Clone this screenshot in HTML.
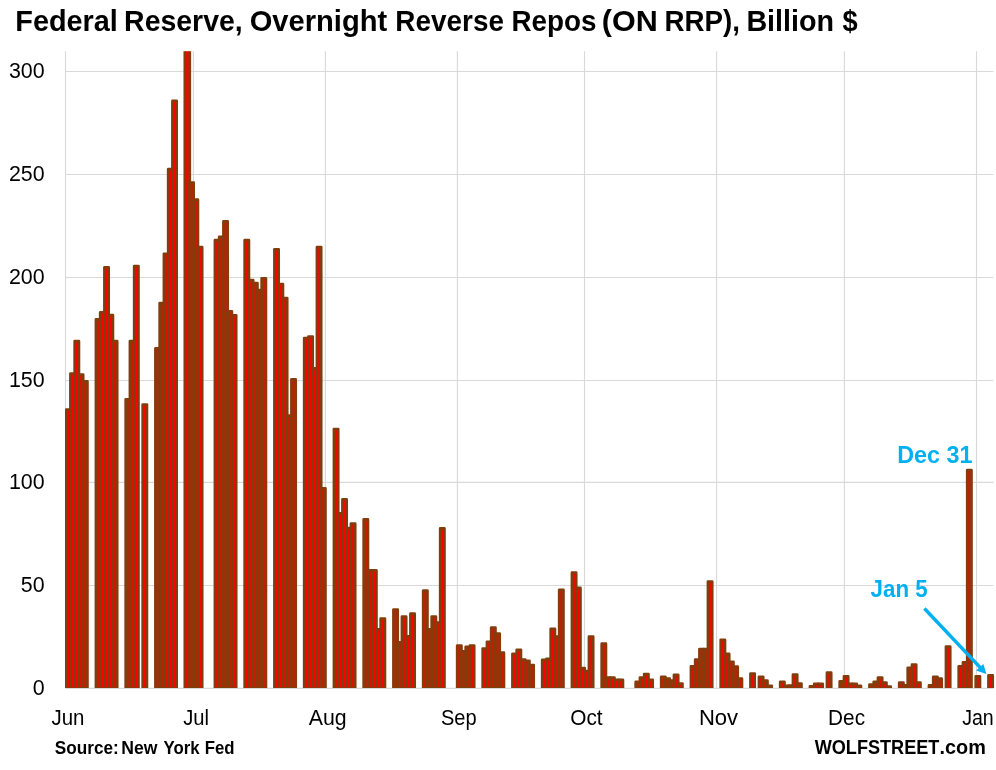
<!DOCTYPE html>
<html lang="en"><head><meta charset="utf-8"><title>Federal Reserve, Overnight Reverse Repos (ON RRP), Billion $</title>
<style>html,body{margin:0;padding:0;background:#fff}body{width:996px;height:770px;overflow:hidden}svg{display:block}text{font-family:"Liberation Sans",sans-serif}</style></head><body>
<svg width="996" height="770" viewBox="0 0 996 770">
<rect width="996" height="770" fill="#fff"/>
<g stroke="#d9d9d9" stroke-width="1.1" fill="none">
<line x1="65.5" x2="993.5" y1="688.40" y2="688.40"/>
<line x1="65.5" x2="993.5" y1="585.45" y2="585.45"/>
<line x1="65.5" x2="993.5" y1="482.40" y2="482.40"/>
<line x1="65.5" x2="993.5" y1="380.50" y2="380.50"/>
<line x1="65.5" x2="993.5" y1="277.50" y2="277.50"/>
<line x1="65.5" x2="993.5" y1="174.45" y2="174.45"/>
<line x1="65.5" x2="993.5" y1="71.45" y2="71.45"/>
<line x1="65.50" x2="65.50" y1="51.3" y2="688.3"/>
<line x1="193.40" x2="193.40" y1="51.3" y2="688.3"/>
<line x1="325.40" x2="325.40" y1="51.3" y2="688.3"/>
<line x1="457.40" x2="457.40" y1="51.3" y2="688.3"/>
<line x1="584.50" x2="584.50" y1="51.3" y2="688.3"/>
<line x1="716.60" x2="716.60" y1="51.3" y2="688.3"/>
<line x1="844.40" x2="844.40" y1="51.3" y2="688.3"/>
<line x1="976.50" x2="976.50" y1="51.3" y2="688.3"/>
</g>
<defs><clipPath id="pc"><rect x="65.0" y="51.3" width="935" height="636.6"/></clipPath></defs>
<g clip-path="url(#pc)" fill="#ff0000" stroke="#843c0c" stroke-width="2.7" stroke-linejoin="round">
<rect x="66.17" y="409.53" width="4.25" height="279.12"/>
<rect x="70.43" y="373.52" width="4.25" height="315.13"/>
<rect x="74.68" y="341.22" width="4.25" height="347.43"/>
<rect x="78.93" y="374.55" width="4.25" height="314.10"/>
<rect x="83.18" y="381.34" width="4.25" height="307.31"/>
<rect x="95.93" y="319.41" width="4.25" height="369.24"/>
<rect x="100.18" y="312.41" width="4.25" height="376.24"/>
<rect x="104.43" y="267.35" width="4.25" height="421.30"/>
<rect x="108.68" y="315.09" width="4.25" height="373.56"/>
<rect x="112.93" y="341.22" width="4.25" height="347.43"/>
<rect x="125.68" y="399.24" width="4.25" height="289.41"/>
<rect x="129.93" y="341.22" width="4.25" height="347.43"/>
<rect x="134.18" y="266.12" width="4.25" height="422.53"/>
<rect x="142.68" y="404.59" width="4.25" height="284.06"/>
<rect x="155.43" y="348.42" width="4.25" height="340.23"/>
<rect x="159.68" y="303.15" width="4.25" height="385.50"/>
<rect x="163.93" y="253.77" width="4.25" height="434.88"/>
<rect x="168.18" y="169.21" width="4.25" height="519.44"/>
<rect x="172.43" y="100.90" width="4.25" height="587.75"/>
<rect x="184.83" y="8.73" width="4.95" height="679.92"/>
<rect x="189.43" y="182.59" width="4.25" height="506.06"/>
<rect x="193.68" y="199.66" width="4.25" height="488.99"/>
<rect x="197.93" y="247.19" width="4.25" height="441.46"/>
<rect x="214.93" y="240.20" width="4.25" height="448.45"/>
<rect x="219.18" y="236.90" width="4.25" height="451.75"/>
<rect x="223.43" y="221.27" width="4.25" height="467.38"/>
<rect x="227.68" y="311.38" width="4.25" height="377.27"/>
<rect x="231.93" y="315.29" width="4.25" height="373.36"/>
<rect x="244.68" y="240.20" width="4.25" height="448.45"/>
<rect x="248.93" y="280.11" width="4.25" height="408.54"/>
<rect x="253.18" y="282.99" width="4.25" height="405.66"/>
<rect x="257.43" y="290.19" width="4.25" height="398.46"/>
<rect x="261.68" y="278.26" width="4.25" height="410.39"/>
<rect x="274.43" y="249.25" width="4.25" height="439.40"/>
<rect x="278.69" y="284.02" width="4.25" height="404.63"/>
<rect x="282.94" y="298.01" width="4.25" height="390.64"/>
<rect x="287.19" y="415.70" width="4.25" height="272.95"/>
<rect x="291.44" y="379.28" width="4.25" height="309.37"/>
<rect x="304.19" y="338.13" width="4.25" height="350.52"/>
<rect x="308.44" y="336.49" width="4.25" height="352.16"/>
<rect x="312.69" y="368.38" width="4.25" height="320.27"/>
<rect x="316.94" y="247.19" width="4.25" height="441.46"/>
<rect x="321.19" y="488.33" width="4.25" height="200.32"/>
<rect x="333.94" y="429.07" width="4.25" height="259.58"/>
<rect x="338.19" y="513.43" width="4.25" height="175.22"/>
<rect x="342.44" y="499.44" width="4.25" height="189.21"/>
<rect x="346.69" y="528.04" width="4.25" height="160.61"/>
<rect x="350.94" y="523.51" width="4.25" height="165.14"/>
<rect x="363.69" y="519.40" width="4.25" height="169.25"/>
<rect x="367.94" y="570.42" width="4.25" height="118.23"/>
<rect x="372.19" y="570.42" width="4.25" height="118.23"/>
<rect x="376.44" y="629.27" width="4.25" height="59.38"/>
<rect x="380.69" y="618.57" width="4.25" height="70.08"/>
<rect x="393.44" y="609.52" width="4.25" height="79.13"/>
<rect x="397.69" y="642.44" width="4.25" height="46.21"/>
<rect x="401.94" y="616.72" width="4.25" height="71.93"/>
<rect x="406.19" y="636.47" width="4.25" height="52.18"/>
<rect x="410.44" y="613.63" width="4.25" height="75.02"/>
<rect x="423.19" y="590.59" width="4.25" height="98.06"/>
<rect x="427.44" y="629.27" width="4.25" height="59.38"/>
<rect x="431.69" y="616.72" width="4.25" height="71.93"/>
<rect x="435.94" y="622.48" width="4.25" height="66.17"/>
<rect x="440.19" y="528.45" width="4.25" height="160.20"/>
<rect x="457.19" y="645.52" width="4.25" height="43.13"/>
<rect x="461.44" y="651.28" width="4.25" height="37.37"/>
<rect x="465.69" y="646.76" width="4.25" height="41.89"/>
<rect x="469.94" y="645.52" width="4.25" height="43.13"/>
<rect x="482.69" y="648.61" width="4.25" height="40.04"/>
<rect x="486.94" y="641.82" width="4.25" height="46.83"/>
<rect x="491.20" y="627.62" width="4.25" height="61.03"/>
<rect x="495.45" y="633.59" width="4.25" height="55.06"/>
<rect x="499.70" y="652.72" width="4.25" height="35.93"/>
<rect x="512.45" y="653.75" width="4.25" height="34.90"/>
<rect x="516.70" y="649.84" width="4.25" height="38.81"/>
<rect x="520.95" y="659.51" width="4.25" height="29.14"/>
<rect x="525.20" y="660.75" width="4.25" height="27.90"/>
<rect x="529.45" y="665.07" width="4.25" height="23.58"/>
<rect x="542.20" y="659.92" width="4.25" height="28.73"/>
<rect x="546.45" y="658.90" width="4.25" height="29.75"/>
<rect x="550.70" y="628.86" width="4.25" height="59.79"/>
<rect x="554.95" y="636.67" width="4.25" height="51.98"/>
<rect x="559.20" y="589.76" width="4.25" height="98.89"/>
<rect x="571.95" y="572.69" width="4.25" height="115.96"/>
<rect x="576.20" y="587.91" width="4.25" height="100.74"/>
<rect x="580.45" y="668.15" width="4.25" height="20.50"/>
<rect x="584.70" y="671.03" width="4.25" height="17.62"/>
<rect x="588.95" y="636.67" width="4.25" height="51.98"/>
<rect x="601.70" y="643.67" width="4.25" height="44.98"/>
<rect x="605.95" y="677.62" width="4.25" height="11.03"/>
<rect x="610.20" y="677.62" width="4.25" height="11.03"/>
<rect x="614.45" y="679.88" width="4.25" height="8.77"/>
<rect x="618.70" y="679.88" width="4.25" height="8.77"/>
<rect x="635.70" y="681.73" width="4.25" height="6.92"/>
<rect x="639.95" y="677.62" width="4.25" height="11.03"/>
<rect x="644.20" y="674.12" width="4.25" height="14.53"/>
<rect x="648.45" y="679.88" width="4.25" height="8.77"/>
<rect x="661.20" y="676.80" width="4.25" height="11.85"/>
<rect x="665.45" y="678.65" width="4.25" height="10.00"/>
<rect x="669.70" y="680.70" width="4.25" height="7.95"/>
<rect x="673.95" y="674.94" width="4.25" height="13.71"/>
<rect x="678.20" y="683.59" width="4.25" height="5.06"/>
<rect x="690.95" y="666.30" width="4.25" height="22.35"/>
<rect x="695.20" y="659.51" width="4.25" height="29.14"/>
<rect x="699.45" y="649.02" width="4.25" height="39.63"/>
<rect x="703.71" y="649.02" width="4.25" height="39.63"/>
<rect x="707.96" y="581.53" width="4.25" height="107.12"/>
<rect x="720.71" y="639.76" width="4.25" height="48.89"/>
<rect x="724.96" y="653.96" width="4.25" height="34.69"/>
<rect x="729.21" y="661.78" width="4.25" height="26.87"/>
<rect x="733.46" y="666.71" width="4.25" height="21.94"/>
<rect x="737.71" y="678.65" width="4.25" height="10.00"/>
<rect x="750.46" y="673.71" width="4.25" height="14.94"/>
<rect x="758.96" y="676.80" width="4.25" height="11.85"/>
<rect x="763.21" y="680.70" width="4.25" height="7.95"/>
<rect x="767.46" y="685.85" width="4.25" height="2.80"/>
<rect x="780.21" y="681.73" width="4.25" height="6.92"/>
<rect x="784.46" y="685.85" width="4.25" height="2.80"/>
<rect x="788.71" y="685.64" width="4.25" height="3.01"/>
<rect x="792.96" y="674.53" width="4.25" height="14.12"/>
<rect x="797.21" y="683.59" width="4.25" height="5.06"/>
<rect x="809.96" y="686.47" width="4.25" height="2.18"/>
<rect x="814.21" y="683.79" width="4.25" height="4.86"/>
<rect x="818.46" y="683.79" width="4.25" height="4.86"/>
<rect x="826.96" y="672.68" width="4.25" height="15.97"/>
<rect x="839.71" y="681.32" width="4.25" height="7.33"/>
<rect x="843.96" y="676.38" width="4.25" height="12.27"/>
<rect x="848.21" y="683.79" width="4.25" height="4.86"/>
<rect x="852.46" y="683.79" width="4.25" height="4.86"/>
<rect x="856.71" y="685.85" width="4.25" height="2.80"/>
<rect x="869.46" y="684.61" width="4.25" height="4.04"/>
<rect x="873.71" y="681.73" width="4.25" height="6.92"/>
<rect x="877.96" y="677.62" width="4.25" height="11.03"/>
<rect x="882.21" y="682.56" width="4.25" height="6.09"/>
<rect x="886.46" y="686.67" width="4.25" height="1.98"/>
<rect x="899.21" y="682.56" width="4.25" height="6.09"/>
<rect x="903.46" y="685.44" width="4.25" height="3.21"/>
<rect x="907.71" y="667.74" width="4.25" height="20.91"/>
<rect x="911.96" y="664.66" width="4.25" height="23.99"/>
<rect x="916.22" y="682.56" width="4.25" height="6.09"/>
<rect x="928.97" y="685.44" width="4.25" height="3.21"/>
<rect x="933.22" y="676.80" width="4.25" height="11.85"/>
<rect x="937.47" y="678.65" width="4.25" height="10.00"/>
<rect x="945.97" y="646.55" width="4.25" height="42.10"/>
<rect x="958.72" y="666.30" width="4.25" height="22.35"/>
<rect x="962.97" y="662.39" width="4.25" height="26.26"/>
<rect x="967.22" y="470.22" width="4.25" height="218.43"/>
<rect x="975.72" y="676.38" width="4.25" height="12.27"/>
<rect x="988.47" y="675.36" width="4.25" height="13.29"/>
</g>
<text x="44.6" y="695.2" font-size="21.4" text-anchor="end" fill="#000">0</text>
<text x="44.6" y="592.2" font-size="21.4" text-anchor="end" fill="#000">50</text>
<text x="44.6" y="489.2" font-size="21.4" text-anchor="end" fill="#000">100</text>
<text x="44.6" y="387.3" font-size="21.4" text-anchor="end" fill="#000">150</text>
<text x="44.6" y="284.3" font-size="21.4" text-anchor="end" fill="#000">200</text>
<text x="44.6" y="181.2" font-size="21.4" text-anchor="end" fill="#000">250</text>
<text x="44.6" y="78.2" font-size="21.4" text-anchor="end" fill="#000">300</text>
<text y="31.4" font-size="29.8" font-weight="bold" fill="#000"><tspan x="15.33" textLength="102.55" lengthAdjust="spacingAndGlyphs">Federal</tspan> <tspan x="124.10" textLength="118.63" lengthAdjust="spacingAndGlyphs">Reserve,</tspan> <tspan x="249.65" textLength="137.53" lengthAdjust="spacingAndGlyphs">Overnight</tspan> <tspan x="395.36" textLength="108.55" lengthAdjust="spacingAndGlyphs">Reverse</tspan> <tspan x="511.45" textLength="84.90" lengthAdjust="spacingAndGlyphs">Repos</tspan> <tspan x="601.80" textLength="55.91" lengthAdjust="spacingAndGlyphs">(ON</tspan> <tspan x="664.51" textLength="75.46" lengthAdjust="spacingAndGlyphs">RRP),</tspan> <tspan x="746.40" textLength="87.65" lengthAdjust="spacingAndGlyphs">Billion</tspan> <tspan x="842.60" textLength="15.15" lengthAdjust="spacingAndGlyphs">$</tspan></text>
<text y="724.9" font-size="21.7" fill="#000"><tspan x="51.49" textLength="32.96" lengthAdjust="spacingAndGlyphs">Jun</tspan></text>
<text y="724.9" font-size="21.7" fill="#000"><tspan x="183.15" textLength="25.82" lengthAdjust="spacingAndGlyphs">Jul</tspan></text>
<text y="724.9" font-size="21.7" fill="#000"><tspan x="308.77" textLength="37.90" lengthAdjust="spacingAndGlyphs">Aug</tspan></text>
<text y="724.9" font-size="21.7" fill="#000"><tspan x="440.92" textLength="35.65" lengthAdjust="spacingAndGlyphs">Sep</tspan></text>
<text y="724.9" font-size="21.7" fill="#000"><tspan x="570.24" textLength="32.37" lengthAdjust="spacingAndGlyphs">Oct</tspan></text>
<text y="724.9" font-size="21.7" fill="#000"><tspan x="698.94" textLength="39.21" lengthAdjust="spacingAndGlyphs">Nov</tspan></text>
<text y="724.9" font-size="21.7" fill="#000"><tspan x="828.08" textLength="36.95" lengthAdjust="spacingAndGlyphs">Dec</tspan></text>
<text y="724.9" font-size="21.7" fill="#000"><tspan x="962.17" textLength="31.56" lengthAdjust="spacingAndGlyphs">Jan</tspan></text>
<text y="753.5" font-size="17.9" font-weight="bold" fill="#000"><tspan x="54.86" textLength="63.92" lengthAdjust="spacingAndGlyphs">Source:</tspan> <tspan x="121.29" textLength="36.17" lengthAdjust="spacingAndGlyphs">New</tspan> <tspan x="163.47" textLength="36.12" lengthAdjust="spacingAndGlyphs">York</tspan> <tspan x="204.80" textLength="29.83" lengthAdjust="spacingAndGlyphs">Fed</tspan></text>
<text y="753.8" font-size="20.6" font-weight="bold" fill="#000"><tspan x="814.72" textLength="124.65" lengthAdjust="spacingAndGlyphs">WOLFSTREET</tspan><tspan x="939.49" textLength="46.35" lengthAdjust="spacingAndGlyphs">.com</tspan></text>
<text y="463.4" font-size="23.0" font-weight="bold" fill="#00b0f0"><tspan x="897.16" textLength="75.34" lengthAdjust="spacingAndGlyphs">Dec 31</tspan></text>
<text y="596.7" font-size="23.0" font-weight="bold" fill="#00b0f0"><tspan x="870.56" textLength="57.23" lengthAdjust="spacingAndGlyphs">Jan 5</tspan></text>
<line x1="924.4" y1="608.5" x2="981.5" y2="668.9" stroke="#00b0f0" stroke-width="3.4"/>
<polygon points="986.4,674.1 976.1,670.5 983.4,664.1" fill="#00b0f0"/>
</svg></body></html>
